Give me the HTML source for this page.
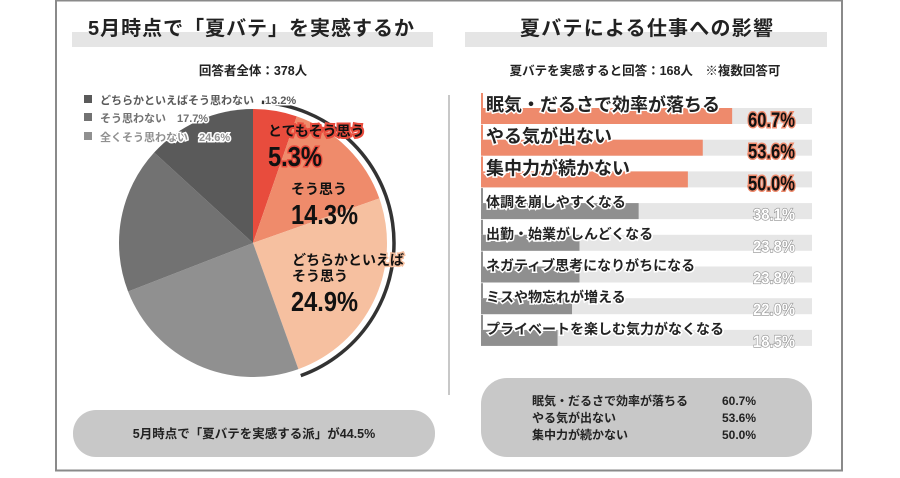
<!DOCTYPE html>
<html><head><meta charset="utf-8">
<style>
body{margin:0;width:900px;height:473px;background:#fff;overflow:hidden;font-family:"Liberation Sans","Noto Sans CJK JP",sans-serif;}
svg text{font-family:"Liberation Sans","Noto Sans CJK JP",sans-serif;}
</style></head><body>
<svg width="900" height="473" viewBox="0 0 900 473">
<rect x="56" y="0.5" width="786" height="470" fill="none" stroke="#8a8a8a" stroke-width="2"/>
<line x1="449" y1="95" x2="449" y2="395" stroke="#c8c8c8" stroke-width="2"/>
<rect x="72" y="32" width="361" height="15" fill="#e5e5e5"/>
<text x="88" y="35" font-size="20" font-weight="bold" fill="#222" textLength="326" lengthAdjust="spacing">5月時点で「夏バテ」を実感するか</text>
<text x="253" y="75" font-size="12.5" font-weight="bold" fill="#222" text-anchor="middle">回答者全体：378人</text>
<g id="pie"></g>
<g id="legend"></g>
<g id="pielabels" font-weight="bold" fill="#111">
<text x="268" y="136" font-size="14" stroke="#e84c3d" stroke-width="4" paint-order="stroke">とてもそう思う</text>
<text x="268" y="166" font-size="28" stroke="#e84c3d" stroke-width="3" paint-order="stroke" textLength="54" lengthAdjust="spacingAndGlyphs">5.3%</text>
<text x="291" y="194" font-size="14">そう思う</text>
<text x="291" y="224" font-size="28" textLength="67" lengthAdjust="spacingAndGlyphs">14.3%</text>
<text x="292" y="265" font-size="14" stroke="#f6c0a0" stroke-width="3" paint-order="stroke">どちらかといえば</text>
<text x="292" y="281" font-size="14">そう思う</text>
<text x="291" y="311" font-size="28" textLength="67" lengthAdjust="spacingAndGlyphs">24.9%</text>
</g>
<rect x="73" y="410" width="362" height="47" rx="23" fill="#c8c8c8"/>
<text x="254" y="438" font-size="12.5" font-weight="bold" fill="#222" text-anchor="middle">5月時点で「夏バテを実感する派」が44.5%</text>
<rect x="465" y="32" width="362" height="15" fill="#e5e5e5"/>
<text x="520" y="35" font-size="20" font-weight="bold" fill="#222" textLength="253" lengthAdjust="spacing">夏バテによる仕事への影響</text>
<text x="645" y="75" font-size="12.5" font-weight="bold" fill="#222" text-anchor="middle">夏バテを実感すると回答：168人　※複数回答可</text>
<g id="bars"></g>
<rect x="481" y="378" width="331" height="79" rx="26" fill="#c8c8c8"/>
<g font-size="12" font-weight="bold" fill="#222">
<text x="532" y="405">眠気・だるさで効率が落ちる</text><text x="722" y="405">60.7%</text>
<text x="532" y="422">やる気が出ない</text><text x="722" y="422">53.6%</text>
<text x="532" y="439">集中力が続かない</text><text x="722" y="439">50.0%</text>
</g>
</svg>
<script>
const NS='http://www.w3.org/2000/svg';
const pieLabels=['とてもそう思う','そう思う','どちらかといえばそう思う','全くそう思わない','そう思わない','どちらかといえばそう思わない'];
const pieValues=[5.3,14.3,24.9,24.6,17.7,13.2];
const pieColors=['#e84c3d','#ef8b6b','#f6c0a0','#909090','#727272','#5a5a5a'];
const legendLabels=['どちらかといえばそう思わない　13.2%','そう思わない　17.7%','全くそう思わない　24.6%'];
const barLabels=['眠気・だるさで効率が落ちる','やる気が出ない','集中力が続かない','体調を崩しやすくなる','出勤・始業がしんどくなる','ネガティブ思考になりがちになる','ミスや物忘れが増える','プライベートを楽しむ気力がなくなる'];
const barValues=[60.7,53.6,50.0,38.1,23.8,23.8,22.0,18.5];

function mk(tag,attrs,parent){const e=document.createElementNS(NS,tag);for(const k in attrs)e.setAttribute(k,attrs[k]);parent.appendChild(e);return e;}
const cx=253,cy=243,r=134;
const pie=document.getElementById('pie');
const total=pieValues.reduce((a,b)=>a+b,0);
function pt(frac,rad){const a=frac*2*Math.PI-Math.PI/2;return [cx+rad*Math.cos(a),cy+rad*Math.sin(a)];}
let acc=0;
pieValues.forEach((v,i)=>{
  const f0=acc/total,f1=(acc+v)/total;acc+=v;
  const p0=pt(f0,r),p1=pt(f1,r);const large=(f1-f0)>0.5?1:0;
  const s=mk('path',{d:`M${cx},${cy}L${p0[0]},${p0[1]}A${r},${r} 0 ${large} 1 ${p1[0]},${p1[1]}Z`,fill:pieColors[i]},pie);
  
  
});
const agree=(pieValues[0]+pieValues[1]+pieValues[2])/total;
const ar=141;const a0=pt(0.01,ar),a1=pt(agree,ar);
const arc=mk('path',{d:`M${a0[0]},${a0[1]}A${ar},${ar} 0 0 1 ${a1[0]},${a1[1]}`,fill:'none',stroke:'#333','stroke-width':3.5},pie);


const lg=document.getElementById('legend');
const legColors=[pieColors[5],pieColors[4],pieColors[3]];
const legY=[100,118,137];
legendLabels.forEach((t,i)=>{
  const sq=mk('rect',{x:84,y:legY[i]-5,width:8,height:8,fill:legColors[i]},lg);
  
  
  const tx=mk('text',{x:100,y:legY[i]+4,'font-size':11,'font-weight':'bold',fill:legColors[i],stroke:'#fff','stroke-width':3,'paint-order':'stroke'},lg);
  tx.textContent=t;
  
  
});
const bg=document.getElementById('bars');
const bx=481,bw=331,maxV=80,y0=108,pitch=31.7,bh=16;
const xs=v=>bw*v/maxV;
barValues.forEach((v,i)=>{
  const y=y0+i*pitch;const top=i<3;
  const tr=mk('rect',{x:bx,y:y,width:bw,height:bh,fill:'#e6e6e6'},bg);
  
  
  const b=mk('rect',{x:bx,y:y,width:xs(v),height:bh,fill:top?'#ee8a6c':'#8f8f8f'},bg);
  
  
  const tk=mk('line',{x1:bx+1,y1:y-15,x2:bx+1,y2:y,stroke:top?'#ee8a6c':'#8f8f8f','stroke-width':2},bg);
  
  
  const lb=mk('text',{x:bx+5,y:top?y+3:y+4,'font-size':top?18:14,'font-weight':'bold',fill:'#222',stroke:'#fff','stroke-width':3,'paint-order':'stroke'},bg);
  lb.textContent=barLabels[i];
  
  
  const vl=mk('text',{x:795,y:y+(top?19:17),'text-anchor':'end','font-size':top?21:17,'font-weight':'bold',textLength:top?47:42,lengthAdjust:'spacingAndGlyphs',fill:top?'#111':'#fff',stroke:top?'#ee8a6c':'#8f8f8f','stroke-width':top?3:1.2,'paint-order':'stroke'},bg);
  vl.textContent=v.toFixed(1)+'%';
  
  
});
</script>
</body></html>
